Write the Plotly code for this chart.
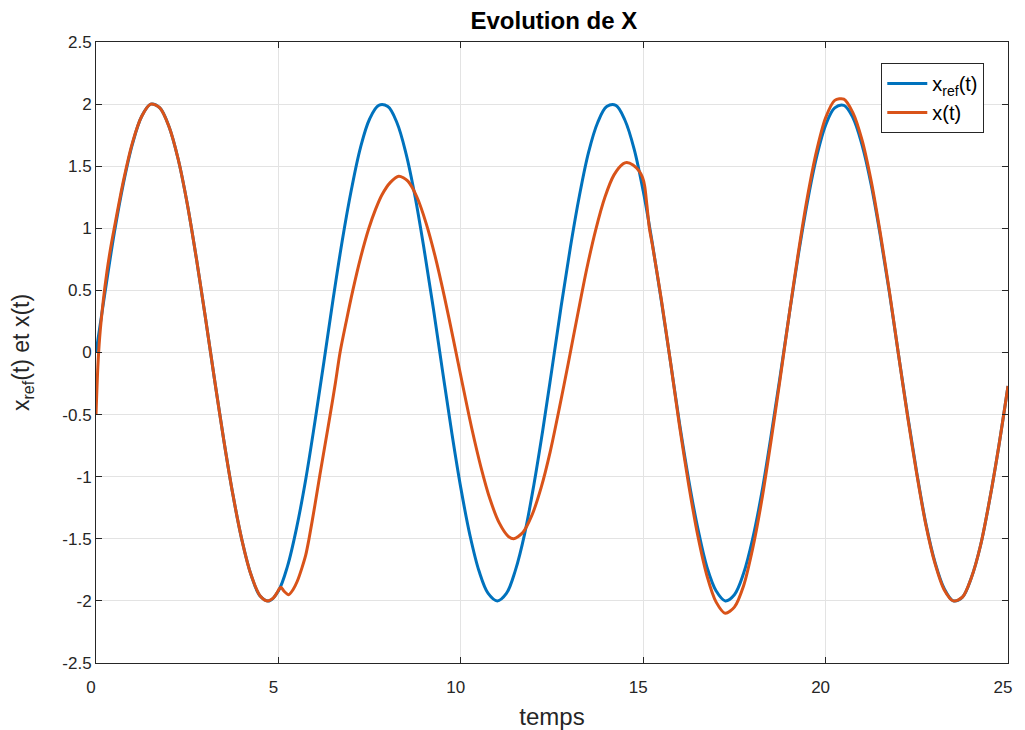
import plotly.graph_objects as go

# ---- data ----
t_ref = [i * 0.25 for i in range(101)]
x_ref = [0.00, 0.49, 0.96, 1.36, 1.68, 1.90, 2.00, 1.97, 1.82, 1.56,
         1.20, 0.76, 0.28, -0.22, -0.70, -1.14, -1.51, -1.79, -1.96, -2.00,
         -1.92, -1.72, -1.41, -1.02, -0.56, -0.07, 0.43, 0.90, 1.31, 1.65,
         1.88, 1.99, 1.98, 1.85, 1.60, 1.25, 0.82, 0.35, -0.15, -0.64,
         -1.09, -1.47, -1.76, -1.94, -2.00, -1.94, -1.75, -1.46, -1.07, -0.62,
         -0.13, 0.37, 0.84, 1.26, 1.61, 1.85, 1.98, 1.99, 1.87, 1.64,
         1.30, 0.88, 0.41, -0.08, -0.58, -1.03, -1.42, -1.73, -1.92, -2.00,
         -1.95, -1.78, -1.50, -1.13, -0.68, -0.20, 0.30, 0.78, 1.21, 1.57,
         1.83, 1.97, 1.99, 1.89, 1.67, 1.35, 0.94, 0.48, -0.02, -0.51,
         -0.97, -1.38, -1.69, -1.90, -2.00, -1.97, -1.81, -1.55, -1.18, -0.75,
         -0.27]

t_x = [0.0, 0.05, 0.1, 0.2, 0.3, 0.4, 0.5, 0.75, 1.0, 1.25,
       1.5, 1.75, 2.0, 2.25, 2.5, 2.75, 3.0, 3.25, 3.5, 3.75,
       4.0, 4.25, 4.5, 4.7, 4.85, 4.95, 5.03, 5.07, 5.15, 5.28,
       5.40, 5.52, 5.65, 5.75, 5.84, 6.00, 6.14, 6.28, 6.42, 6.56, 6.69,
       6.86, 7.04, 7.25, 7.48, 7.66, 7.84, 8.07, 8.30, 8.55, 8.80,
       9.05, 9.30, 9.55, 9.80, 10.05, 10.30, 10.55, 10.80, 11.05, 11.30,
       11.45, 11.70, 11.95, 12.20, 12.45, 12.70, 12.95, 13.20, 13.45, 13.70,
       13.95, 14.20, 14.45, 14.55, 14.72, 14.89, 14.98, 15.04, 15.10, 15.17,
       15.25, 15.5, 15.75, 16.0, 16.25, 16.5, 16.75, 17.0, 17.25, 17.5,
       17.75, 18.0, 18.25, 18.5, 18.75, 19.0, 19.25, 19.5, 19.75, 20.0,
       20.25, 20.5, 20.75, 21.0, 21.25, 21.5, 21.75, 22.0, 22.25, 22.5,
       22.75, 23.0, 23.25, 23.5, 23.75, 24.0, 24.25, 24.5, 24.75, 25.0]
x_val = [-0.50, -0.12, 0.12, 0.42, 0.65, 0.84, 1.00, 1.38, 1.69, 1.90,
         2.00, 1.97, 1.82, 1.56, 1.20, 0.76, 0.28, -0.22, -0.70, -1.14,
         -1.51, -1.79, -1.96, -2.00, -1.98, -1.94, -1.90, -1.89, -1.92, -1.95,
         -1.91, -1.84, -1.73, -1.63, -1.50, -1.23, -0.98, -0.74, -0.50, -0.25, 0.00,
         0.25, 0.50, 0.76, 1.00, 1.15, 1.27, 1.37, 1.42, 1.38, 1.25,
         1.04, 0.77, 0.45, 0.10, -0.26, -0.61, -0.92, -1.18, -1.37, -1.48,
         -1.50, -1.45, -1.31, -1.09, -0.80, -0.45, -0.08, 0.30, 0.67, 0.99,
         1.25, 1.43, 1.52, 1.53, 1.51, 1.46, 1.41, 1.34, 1.19, 1.00,
         0.87, 0.42, -0.08, -0.60, -1.07, -1.48, -1.80, -2.01, -2.10, -2.05,
         -1.88, -1.58, -1.19, -0.72, -0.22, 0.30, 0.80, 1.25, 1.62, 1.89,
         2.03, 2.04, 1.93, 1.71, 1.38, 0.96, 0.49, -0.02, -0.52, -0.98,
         -1.39, -1.70, -1.91, -2.00, -1.97, -1.81, -1.55, -1.18, -0.75, -0.27]

x_ticks = [0, 5, 10, 15, 20, 25]
x_tick_text = ["0", "5", "10", "15", "20", "25"]
y_ticks = [-2.5, -2, -1.5, -1, -0.5, 0, 0.5, 1, 1.5, 2, 2.5]
y_tick_text = ["-2.5", "-2", "-1.5", "-1", "-0.5", "0", "0.5", "1", "1.5", "2", "2.5"]

BLUE = "#0072BD"
ORANGE = "#D95319"
FONT = "Liberation Sans, Arial, Helvetica, sans-serif"
AXC = "#262626"

fig = go.Figure()
fig.add_trace(go.Scatter(x=t_ref, y=x_ref, mode="lines", name="x<sub>ref</sub>(t)",
                         line=dict(color=BLUE, width=3, shape="spline", smoothing=1.0)))
fig.add_trace(go.Scatter(x=t_x, y=x_val, mode="lines", name="x(t)",
                         line=dict(color=ORANGE, width=3, shape="spline", smoothing=0.8)))

axis_common = dict(
    showline=True, linecolor=AXC, linewidth=1, mirror="allticks",
    ticks="inside", ticklen=6, tickcolor=AXC, tickwidth=1,
    showgrid=True, gridcolor="#e3e3e3", gridwidth=1,
    zeroline=False, tickfont=dict(family=FONT, size=17, color=AXC),
)

fig.update_layout(
    width=1009, height=722,
    margin=dict(l=88, r=5, t=34, b=67),
    paper_bgcolor="white", plot_bgcolor="white",
    font=dict(family=FONT, color=AXC),
    title=dict(text="<b>Evolution de X</b>", x=0.541, xanchor="center",
               y=0.983, yanchor="middle", font=dict(family=FONT, size=24, color="black")),
    xaxis=dict(range=[0, 25], tickvals=x_ticks, ticktext=x_tick_text,
               ticklabelshift=-5, ticklabelstandoff=9,
               title=dict(text="temps", font=dict(family=FONT, size=24, color=AXC), standoff=11),
               **axis_common),
    yaxis=dict(range=[-2.5, 2.5], tickvals=y_ticks, ticktext=y_tick_text,
               title=dict(text="x<sub>ref</sub>(t) et x(t)", font=dict(family=FONT, size=23, color=AXC),
                          standoff=30),
               **axis_common),
    legend=dict(x=0.974, y=0.966, xanchor="right", yanchor="top",
                bgcolor="white", bordercolor=AXC, borderwidth=1,
                font=dict(family=FONT, size=20, color="black"),
                tracegroupgap=0, itemwidth=40),
    showlegend=True,
)

fig.write_html("out.html")
